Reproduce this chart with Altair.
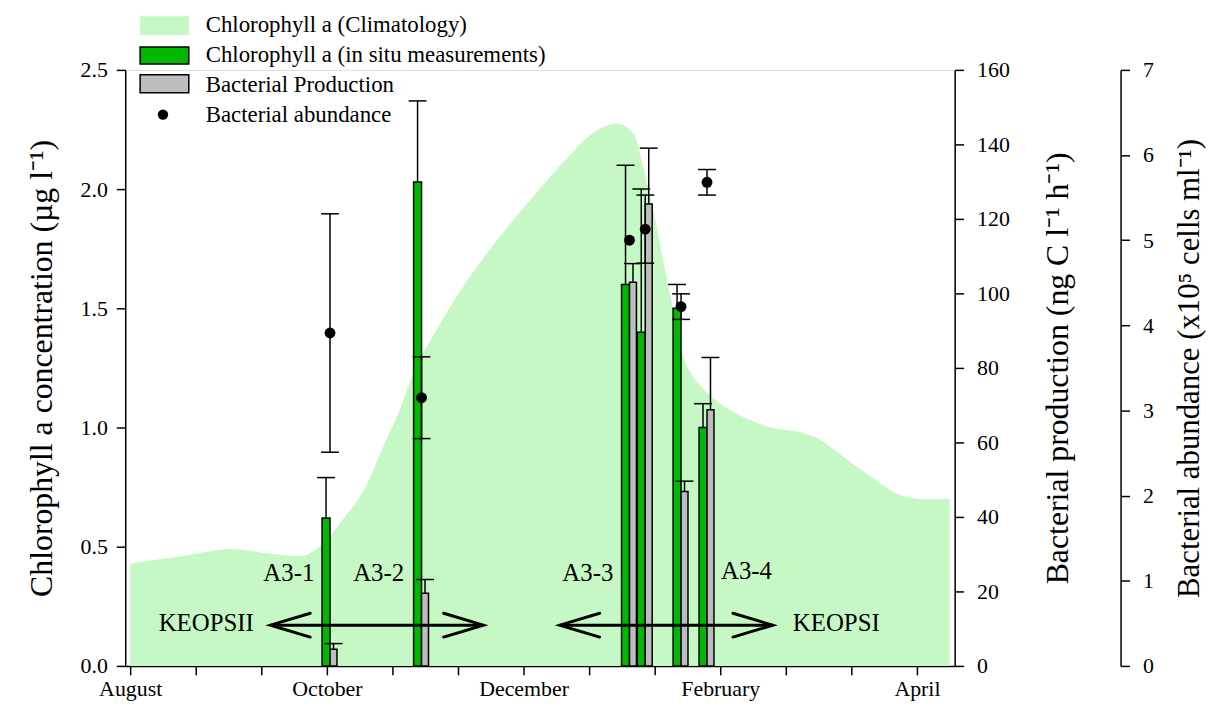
import altair as alt
import pandas as pd

# ---------------- data ----------------
# x axis in "tick units": August=0, October=3, December=6, February=9, April=12
month_labels = {0: "August", 3: "October", 6: "December", 9: "February", 12: "April"}

clim_t = [0.0, 0.79, 1.54, 2.14, 2.59, 2.96, 3.26, 3.59, 3.86, 4.09, 4.38, 4.61, 4.98,
          5.58, 6.18, 6.63, 7.08, 7.42, 7.68, 7.83, 7.98, 8.13, 8.28, 8.43, 8.57, 8.72,
          8.95, 9.17, 9.47, 9.77, 10.22, 10.52, 10.82, 11.27, 11.72, 12.09, 12.5]
clim_chl = [0.43, 0.46, 0.49, 0.47, 0.46, 0.52, 0.62, 0.75, 0.92, 1.06, 1.27, 1.38, 1.55,
            1.78, 1.98, 2.12, 2.24, 2.275, 2.23, 2.09, 1.91, 1.70, 1.50, 1.30, 1.22, 1.17,
            1.11, 1.07, 1.03, 1.00, 0.98, 0.95, 0.89, 0.80, 0.72, 0.70, 0.70]

stations = ["A3-1", "A3-2", "A3-3a", "A3-3b", "A3-4a", "A3-4b"]
station_t = [3.048, 4.444, 7.616, 7.856, 8.402, 8.798]
chl = [0.62, 2.03, 1.60, 1.40, 1.50, 1.00]
chl_err = [0.17, 0.34, 0.50, 0.60, 0.10, 0.10]
bp = [4.5, 19.5, 103.0, 124.0, 46.8, 68.8]
bp_err = [1.5, 3.7, 5.0, 15.0, 2.8, 14.0]
ab = [3.91, 3.15, 5.00, 5.13, 4.22, 5.68]
ab_err = [1.40, 0.48, 0.0, 0.40, 0.15, 0.15]

label_text = ["A3-1", "A3-2", "A3-3", "A3-4", "KEOPSII", "KEOPSI"]
label_t = [2.42, 3.79, 6.98, 9.40, 1.16, 10.77]
label_chl = [0.39, 0.39, 0.39, 0.40, 0.18, 0.18]

arrow_start = [2.14, 6.554]
arrow_end = [5.387, 9.80]
arrow_chl = [0.171, 0.171]

# ---------------- styles ----------------
FONT = "Liberation Serif"
CLIM = "#c6f8c6"
GREEN = "#00b800"
GRAY = "#bdbdbd"

clim_df = pd.DataFrame({"t": clim_t, "chl": clim_chl})
st_df = pd.DataFrame({"station": stations, "t": station_t, "chl": chl, "chl_err": chl_err,
                      "bp": bp, "bp_err": bp_err, "ab": ab, "ab_err": ab_err})
st_df["chl_hi"] = st_df["chl"] + st_df["chl_err"]
st_df["bp_hi"] = st_df["bp"] + st_df["bp_err"]
st_df["ab_hi"] = st_df["ab"] + st_df["ab_err"]
st_df["ab_lo"] = st_df["ab"] - st_df["ab_err"]
lab_df = pd.DataFrame({"text": label_text, "t": label_t, "chl": label_chl})
arr_df = pd.DataFrame({"t": arrow_start, "t2": arrow_end, "chl": arrow_chl})

label_expr = " : ".join([f"datum.value == {k} ? '{v}'" for k, v in month_labels.items()]) + " : ''"

xaxis = alt.Axis(values=list(range(13)), labelExpr=label_expr, tickSize=9, tickWidth=1.5,
                 domainWidth=1.5, domainColor="black", tickColor="black", grid=False,
                 labelFont=FONT, labelFontSize=22, labelColor="black", labelPadding=4,
                 labelOverlap=False, title=None)
xscale = alt.Scale(domain=[0, 12.5], nice=False, zero=False)


def X(field="t"):
    return alt.X(f"{field}:Q", scale=xscale, axis=xaxis)


def ax(title, orient, values, fmt, offset=0, title_pad=10, label_pad=10, angle=None, tfs=32):
    kw = dict(title=title, orient=orient, values=values, format=fmt, offset=offset,
              tickSize=9, tickWidth=1.5, domainWidth=1.5, domainColor="black",
              tickColor="black", grid=False, labelFont=FONT, labelFontSize=22,
              labelColor="black", labelPadding=label_pad, titleFont=FONT, titleFontSize=tfs,
              titleFontWeight="normal", titleColor="black", titlePadding=title_pad,
              labelFlush=False, labelOverlap=False)
    if angle is not None:
        kw["titleAngle"] = angle
    return alt.Axis(**kw)


chl_scale = alt.Scale(domain=[0, 2.5], nice=False, zero=True)
bp_scale = alt.Scale(domain=[0, 160], nice=False, zero=True)
ab_scale = alt.Scale(domain=[0, 7], nice=False, zero=True)

chl_axis = ax("Chlorophyll a concentration (µg l⁻¹)", "left",
              [0, 0.5, 1.0, 1.5, 2.0, 2.5], ".1f", title_pad=22, label_pad=9)
bp_axis = ax("Bacterial production (ng C l⁻¹ h⁻¹)", "right",
             list(range(0, 161, 20)), "d", title_pad=66, label_pad=13, angle=270)
ab_axis = ax("Bacterial abundance (x10⁵ cells ml⁻¹)", "right",
             list(range(0, 8)), "d", offset=167, title_pad=52, label_pad=13, angle=270, tfs=31)

# ---------------- layers ----------------
area = alt.Chart(clim_df).mark_area(color=CLIM, interpolate="monotone", opacity=1).encode(
    x=X(), y=alt.Y("chl:Q", scale=chl_scale, axis=chl_axis))

green_bars = alt.Chart(st_df).mark_bar(size=8, xOffset=-4, color=GREEN, stroke="black",
                                       strokeWidth=1.5).encode(
    x=X(), y=alt.Y("chl:Q", scale=chl_scale, axis=None))

green_err = alt.Chart(st_df).mark_rule(xOffset=-4, color="black", strokeWidth=1.5).encode(
    x=X(), y=alt.Y("chl:Q", scale=chl_scale, axis=None), y2="chl_hi:Q")
green_cap = alt.Chart(st_df).mark_tick(xOffset=-4, color="black", thickness=1.5, size=18,
                                       orient="horizontal", opacity=1).encode(
    x=X(), y=alt.Y("chl_hi:Q", scale=chl_scale, axis=None))

gray_bars = alt.Chart(st_df).mark_bar(size=7, xOffset=3.5, color=GRAY, stroke="black",
                                      strokeWidth=1.5).encode(
    x=X(), y=alt.Y("bp:Q", scale=bp_scale, axis=bp_axis))
gray_err = alt.Chart(st_df).mark_rule(xOffset=3.5, color="black", strokeWidth=1.5).encode(
    x=X(), y=alt.Y("bp:Q", scale=bp_scale, axis=None), y2="bp_hi:Q")
gray_cap = alt.Chart(st_df).mark_tick(xOffset=3.5, color="black", thickness=1.5, size=18,
                                      orient="horizontal", opacity=1).encode(
    x=X(), y=alt.Y("bp_hi:Q", scale=bp_scale, axis=None))

ab_src = alt.Chart(st_df)
ab_err_rule = ab_src.transform_filter("datum.ab_err > 0").mark_rule(
    color="black", strokeWidth=1.5).encode(
    x=X(), y=alt.Y("ab_lo:Q", scale=ab_scale, axis=None), y2="ab_hi:Q")
ab_cap_hi = ab_src.transform_filter("datum.ab_err > 0").mark_tick(
    color="black", thickness=1.5, size=18, orient="horizontal", opacity=1).encode(
    x=X(), y=alt.Y("ab_hi:Q", scale=ab_scale, axis=None))
ab_cap_lo = ab_src.transform_filter("datum.ab_err > 0").mark_tick(
    color="black", thickness=1.5, size=18, orient="horizontal", opacity=1).encode(
    x=X(), y=alt.Y("ab_lo:Q", scale=ab_scale, axis=None))
ab_dots = ab_src.mark_circle(color="black", size=120, opacity=1).encode(
    x=X(), y=alt.Y("ab:Q", scale=ab_scale, axis=ab_axis))

arrow_shaft = alt.Chart(arr_df).mark_rule(color="black", strokeWidth=3).encode(
    x=X(), x2="t2:Q", y=alt.Y("chl:Q", scale=chl_scale, axis=None))
arrow_left = alt.Chart(arr_df).mark_point(shape="M2,-0.6L0,0L2,0.6", size=1600, filled=False,
                                          stroke="black", strokeWidth=3, opacity=1,
                                          strokeCap="round", strokeJoin="miter").encode(
    x=X(), y=alt.Y("chl:Q", scale=chl_scale, axis=None))
arrow_right = alt.Chart(arr_df).mark_point(shape="M-2,-0.6L0,0L-2,0.6", size=1600, filled=False,
                                           stroke="black", strokeWidth=3, opacity=1,
                                           strokeCap="round", strokeJoin="miter").encode(
    x=X("t2"), y=alt.Y("chl:Q", scale=chl_scale, axis=None))

labels = alt.Chart(lab_df).mark_text(font=FONT, fontSize=25, color="black", align="center",
                                     baseline="middle").encode(
    x=X(), y=alt.Y("chl:Q", scale=chl_scale, axis=None), text="text:N")

# ---------------- manual legend ----------------
one = pd.DataFrame({"a": [0]})
LFS = 23
leg = [
    alt.Chart(one).mark_rect(color=CLIM).encode(
        x=alt.value(15), x2=alt.value(64), y=alt.value(-54), y2=alt.value(-35)),
    alt.Chart(one).mark_rect(color=GREEN, stroke="black", strokeWidth=1.5).encode(
        x=alt.value(15), x2=alt.value(64), y=alt.value(-23), y2=alt.value(-6)),
    alt.Chart(one).mark_rect(color=GRAY, stroke="black", strokeWidth=1.5).encode(
        x=alt.value(15), x2=alt.value(64), y=alt.value(5), y2=alt.value(23)),
    alt.Chart(one).mark_circle(color="black", size=110, opacity=1).encode(
        x=alt.value(38), y=alt.value(45)),
]
for txt, yy in [("Chlorophyll a (Climatology)", -45), ("Chlorophyll a (in situ measurements)", -15),
                ("Bacterial Production", 15), ("Bacterial abundance", 45)]:
    leg.append(alt.Chart(one).mark_text(text=txt, font=FONT, fontSize=LFS, color="black",
                                        align="left", baseline="middle").encode(
        x=alt.value(81), y=alt.value(yy)))

chart = alt.layer(
    area, green_bars, gray_bars, arrow_shaft, arrow_left, arrow_right,
    green_err, green_cap, gray_err, gray_cap, ab_err_rule, ab_cap_hi, ab_cap_lo, ab_dots,
    labels, *leg
).resolve_scale(y="independent").properties(
    width=835, height=600,
    autosize=alt.AutoSizeParams(type="none"),
    padding={"left": 118, "top": 60, "right": 254, "bottom": 34},
).configure_view(stroke=None).configure(background="white")

chart.save("out.html", embed_options={"renderer": "svg", "actions": False})
